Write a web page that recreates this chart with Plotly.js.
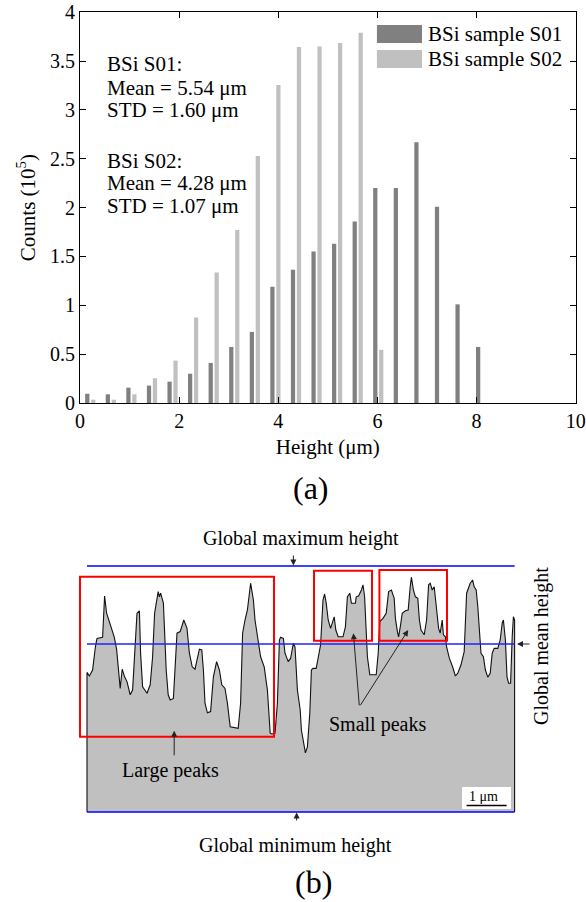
<!DOCTYPE html>
<html>
<head>
<meta charset="utf-8">
<script src="https://cdn.plot.ly/plotly-3.0.1.min.js"></script>
<style>html,body{margin:0;padding:0;background:#fff;}#chart{width:586px;height:902px;}</style>
</head>
<body>
<div id="chart"></div>
<script>
// ---------- (a) histogram data ----------
const binCenters = [0.207, 0.622, 1.037, 1.452, 1.867, 2.282, 2.697, 3.112, 3.527, 3.942,
                    4.357, 4.772, 5.187, 5.602, 6.017, 6.432, 6.847, 7.262, 7.677, 8.092];
const countsS01 = [0.095, 0.089, 0.157, 0.178, 0.219, 0.30, 0.41, 0.574, 0.728, 1.19,
                   1.364, 1.55, 1.63, 1.857, 2.20, 2.20, 2.67, 2.01, 1.01, 0.574];
const countsS02 = [0.034, 0.034, 0.089, 0.253, 0.434, 0.875, 1.337, 1.771, 2.53, 3.255,
                   3.645, 3.65, 3.685, 3.79, 0.544, 0, 0, 0, 0, 0];
const seriesNames = ["BSi sample S01", "BSi sample S02"];
const statsLines = ["BSi S01:", "Mean = 5.54 μm", "STD = 1.60 μm", "BSi S02:", "Mean = 4.28 μm", "STD = 1.07 μm"];
const xTicks = [0, 2, 4, 6, 8, 10];
const yTicks = [0, 0.5, 1, 1.5, 2, 2.5, 3, 3.5, 4];
const yTickLabels = ["0", "0.5", "1", "1.5", "2", "2.5", "3", "3.5", "4"];

// ---------- (b) surface profile data (μm) ----------
const profileX = [0, 0, 0.06, 0.14, 0.21, 0.25, 0.39, 0.44, 0.49, 0.61, 0.68, 0.74, 0.79, 0.83, 0.88, 0.94,
  1.00, 1.08, 1.14, 1.19, 1.25, 1.31, 1.34, 1.39, 1.50, 1.58, 1.64, 1.69, 1.78, 1.81, 1.84, 1.91, 1.94, 1.98,
  2.03, 2.08, 2.16, 2.23, 2.25, 2.33, 2.42, 2.50, 2.56, 2.63, 2.70, 2.81, 2.87, 2.91, 2.95, 3.01, 3.09, 3.16,
  3.24, 3.31, 3.37, 3.45, 3.51, 3.58, 3.78, 3.84, 3.89, 3.95, 4.01, 4.09, 4.16, 4.20, 4.28, 4.34, 4.43, 4.51,
  4.58, 4.62, 4.70, 4.76, 4.81, 4.84, 4.91, 4.95, 5.03, 5.09, 5.16, 5.20, 5.26, 5.33, 5.36, 5.44, 5.46, 5.51,
  5.57, 5.61, 5.65, 5.73, 5.79, 5.84, 5.90, 5.94, 5.98, 6.03, 6.09, 6.13, 6.18, 6.22, 6.28, 6.40, 6.46, 6.51,
  6.57, 6.61, 6.71, 6.73, 6.79, 6.86, 6.90, 6.94, 6.98, 7.01, 7.07, 7.23, 7.28, 7.32, 7.40, 7.48, 7.54, 7.61,
  7.68, 7.71, 7.76, 7.79, 7.84, 7.88, 7.96, 8.03, 8.08, 8.11, 8.16, 8.21, 8.27, 8.31, 8.35, 8.43, 8.49, 8.54,
  8.58, 8.63, 8.68, 8.74, 8.79, 8.83, 8.88, 8.91, 8.96, 8.99, 9.06, 9.14, 9.21, 9.27, 9.35, 9.43, 9.49, 9.58,
  9.64, 9.68, 9.73, 9.77, 9.81, 9.85, 9.91, 9.96, 10.02, 10.08, 10.13, 10.18, 10.27, 10.33, 10.38, 10.41,
  10.46, 10.50, 10.54, 10.59, 10.63, 10.66, 10.69, 10.69];
const profileH = [0, 3.49, 3.40, 3.55, 4.13, 4.34, 4.37, 5.40, 4.97, 4.59, 4.38, 4.07, 3.55, 3.09, 3.57, 3.38,
  3.26, 2.93, 3.05, 3.97, 4.97, 5.03, 3.97, 3.13, 2.97, 3.18, 3.88, 4.97, 5.51, 5.38, 5.47, 5.22, 4.38, 3.55,
  2.93, 2.80, 2.84, 4.38, 4.47, 4.51, 4.80, 4.59, 3.97, 3.63, 3.57, 4.07, 4.05, 3.55, 2.72, 2.48, 2.51, 3.38,
  3.76, 3.55, 3.18, 3.09, 2.72, 2.13, 2.09, 2.72, 4.47, 4.80, 5.05, 5.72, 5.30, 4.80, 4.30, 3.88, 3.63, 3.05,
  1.97, 1.95, 1.97, 2.72, 4.30, 4.37, 4.34, 3.97, 3.76, 3.84, 4.22, 4.13, 3.05, 2.55, 2.05, 1.63, 1.48, 1.63,
  2.47, 3.55, 3.59, 3.59, 3.97, 4.18, 5.30, 5.45, 5.22, 4.80, 4.59, 4.72, 4.88, 4.55, 4.38, 4.38, 4.63, 5.38,
  5.47, 5.22, 5.22, 5.38, 5.40, 5.55, 5.68, 5.38, 4.55, 3.88, 3.43, 3.43, 3.97, 4.76, 4.84, 4.97, 5.51, 5.55,
  5.34, 4.84, 4.51, 4.38, 4.68, 4.97, 5.03, 5.05, 5.63, 5.87, 5.55, 5.38, 5.34, 4.80, 4.55, 4.43, 4.80, 5.68,
  5.72, 5.55, 5.63, 5.13, 4.59, 4.47, 4.80, 4.43, 4.38, 4.13, 3.84, 3.63, 3.40, 3.47, 3.68, 4.01, 5.47, 5.72,
  5.80, 5.63, 5.55, 5.13, 4.63, 3.97, 3.88, 3.55, 3.37, 3.47, 3.97, 4.09, 4.09, 4.30, 4.72, 4.80,
  4.30, 3.38, 3.22, 3.22, 4.38, 4.88, 4.80, 0];
const levelX = [0, 10.69];
const globalMax = 6.15, globalMean = 4.2, globalMin = 0;
// regions of interest: [x0, x1, y0, y1] in μm
const largePeakBox = [-0.175, 4.675, 1.88, 5.88];
const smallPeakBoxes = [[5.675, 7.125, 4.28, 6.03], [7.31, 9.0, 4.28, 6.05]];
const scaleBar = [9.49, 10.49];

const W = 586, H = 902;
const serif = "Liberation Serif, Times New Roman, serif";
const black = "#000";

const traces = [
  {type: "bar", x: binCenters, y: countsS01, name: seriesNames[0], xaxis: "x", yaxis: "y",
   marker: {color: "#808080", line: {width: 0}}, showlegend: false},
  {type: "bar", x: binCenters, y: countsS02, name: seriesNames[1], xaxis: "x", yaxis: "y",
   marker: {color: "#c0c0c0", line: {width: 0}}, showlegend: false},
  {type: "scatter", mode: "lines", x: profileX, y: profileH, xaxis: "x2", yaxis: "y2",
   fill: "tozeroy", fillcolor: "#c0c0c0", line: {color: "#111", width: 1.1}, showlegend: false, hoverinfo: "skip"},
  {type: "scatter", mode: "lines", x: levelX, y: [globalMax, globalMax], xaxis: "x2", yaxis: "y2",
   line: {color: "#0000ff", width: 1.3}, showlegend: false},
  {type: "scatter", mode: "lines", x: levelX, y: [globalMean, globalMean], xaxis: "x2", yaxis: "y2",
   line: {color: "#2020ff", width: 1.3}, showlegend: false},
  {type: "scatter", mode: "lines", x: levelX, y: [globalMin, globalMin], xaxis: "x2", yaxis: "y2",
   line: {color: "#0000ff", width: 1.3}, showlegend: false}
];

const shapes = [];
// legend patches
shapes.push({type: "rect", xref: "x", yref: "y", x0: 5.99, x1: 6.90, y0: 3.685, y1: 3.869,
             fillcolor: "#808080", line: {width: 0}});
shapes.push({type: "rect", xref: "x", yref: "y", x0: 5.99, x1: 6.90, y0: 3.429, y1: 3.613,
             fillcolor: "#c0c0c0", line: {width: 0}});
// red boxes
[largePeakBox, ...smallPeakBoxes].forEach(b => shapes.push({type: "rect", xref: "x2", yref: "y2",
  x0: b[0], x1: b[1], y0: b[2], y1: b[3], line: {color: "#ff0000", width: 2}, fillcolor: "rgba(0,0,0,0)"}));
// scale bar
shapes.push({type: "rect", xref: "x2", yref: "y2", x0: 9.375, x1: 10.6, y0: 0.075, y1: 0.625,
             fillcolor: "#ffffff", line: {width: 0}});
shapes.push({type: "line", xref: "x2", yref: "y2", x0: scaleBar[0], x1: scaleBar[1], y0: 0.16, y1: 0.16,
             line: {color: black, width: 1.5}});

function arrow(x, y, ax, ay) {
  return {xref: "x2", yref: "y2", axref: "x2", ayref: "y2", x: x, y: y, ax: ax, ay: ay, text: "",
          showarrow: true, arrowhead: 2, arrowsize: 1.2, arrowwidth: 1, arrowcolor: "#222"};
}
function label(x, y, text, size, extra) {
  return Object.assign({xref: "x2", yref: "y2", x: x, y: y, text: text, showarrow: false,
    xanchor: "center", yanchor: "middle", font: {family: serif, size: size, color: black}}, extra || {});
}
const statsY = [3.47, 3.22, 3.00, 2.48, 2.255, 2.02];
const annotations = [];
statsLines.forEach((t, i) => annotations.push({xref: "x", yref: "y", x: 0.504, y: statsY[i],
  xanchor: "left", yanchor: "middle", text: t, showarrow: false, font: {family: serif, size: 21, color: black}}));
annotations.push(
  {xref: "x", yref: "y", x: 6.99, y: 3.777, xanchor: "left", yanchor: "middle", text: seriesNames[0],
   showarrow: false, font: {family: serif, size: 21, color: black}},
  {xref: "x", yref: "y", x: 6.99, y: 3.521, xanchor: "left", yanchor: "middle", text: seriesNames[1],
   showarrow: false, font: {family: serif, size: 21, color: black}},
  {xref: "paper", yref: "paper", x: 311 / W, y: 1 - 488 / H, xanchor: "center", yanchor: "middle",
   text: "(a)", showarrow: false, font: {family: serif, size: 32, color: black}},
  {xref: "paper", yref: "paper", x: 313 / W, y: 1 - 882 / H, xanchor: "center", yanchor: "middle",
   text: "(b)", showarrow: false, font: {family: serif, size: 32, color: black}},
  label(5.35, 6.85, "Global maximum height", 20),
  arrow(5.16, 6.16, 5.16, 6.45),
  label(5.21, -0.83, "Global minimum height", 20),
  arrow(5.24, -0.01, 5.24, -0.25),
  label(11.35, 4.15, "Global mean height", 20, {textangle: -90}),
  arrow(10.75, 4.2, 11.1, 4.2),
  label(2.08, 1.03, "Large peaks", 20),
  arrow(2.18, 2.03, 2.18, 1.38),
  label(7.25, 2.18, "Small peaks", 20),
  arrow(6.66, 4.47, 6.81, 2.63),
  arrow(8.03, 4.55, 6.81, 2.63),
  label(9.9, 0.4, "1 μm", 14)
);

const layout = {
  width: W, height: H,
  margin: {l: 0, r: 0, t: 0, b: 0, pad: 0},
  paper_bgcolor: "#fff", plot_bgcolor: "rgba(0,0,0,0)",
  font: {family: serif, size: 20, color: black},
  showlegend: false,
  barmode: "group", bargap: 0.42, bargroupgap: 0.29,
  xaxis: {domain: [80 / W, 575.7 / W], anchor: "y", range: [0, 10], tickvals: xTicks,
          ticks: "inside", ticklen: 6, tickcolor: black, showline: true, linecolor: black, linewidth: 1,
          mirror: "ticks", showgrid: false, zeroline: false,
          tickfont: {family: serif, size: 20, color: black},
          title: {text: "Height (μm)", font: {family: serif, size: 21, color: black}, standoff: 8}},
  yaxis: {domain: [1 - 403 / H, 1 - 12.3 / H], anchor: "x", range: [0, 4], tickvals: yTicks, ticktext: yTickLabels,
          ticks: "inside", ticklen: 6, tickcolor: black, showline: true, linecolor: black, linewidth: 1,
          mirror: "ticks", showgrid: false, zeroline: false,
          tickfont: {family: serif, size: 20, color: black},
          title: {text: "Counts (10<sup>5</sup>)", font: {family: serif, size: 21, color: black}, standoff: 8}},
  xaxis2: {domain: [0, 1], anchor: "y2", range: [-87 / 40, (W - 87) / 40], visible: false, fixedrange: true},
  yaxis2: {domain: [0, 0.5], anchor: "x2", range: [(812 - 902) / 40, (812 - 451) / 40], visible: false, fixedrange: true},
  shapes: shapes,
  annotations: annotations
};

Plotly.newPlot("chart", traces, layout, {displayModeBar: false, staticPlot: true});
</script>
</body>
</html>
